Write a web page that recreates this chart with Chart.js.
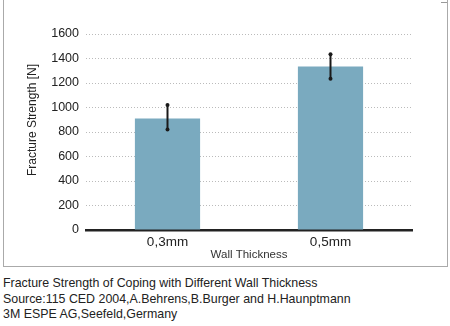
<!DOCTYPE html>
<html>
<head>
<meta charset="utf-8">
<script src="https://cdn.jsdelivr.net/npm/chart.js@4"></script>
<style>
  body { margin: 0; background: #fff; width: 450px; height: 326px; overflow: hidden; position: relative; font-family: "Liberation Sans", Arial, sans-serif; }
  #frame { position: absolute; left: 3px; top: 0; width: 443px; height: 266px; border-left: 1px solid #aaa; border-right: 1px solid #aaa; border-bottom: 1px solid #aaa; }
  #corner { position: absolute; left: 441px; top: 2px; width: 6px; height: 1px; background: #999; }
  #wrap { position: absolute; left: 0; top: 0; width: 450px; height: 270px; }
  #caption { position: absolute; left: 3px; top: 276px; font-size: 12.4px; line-height: 15.5px; color: #222; }
</style>
</head>
<body>
<div id="frame"></div>
<div id="corner"></div>
<div id="wrap"><canvas id="chart"></canvas></div>
<div id="caption">
  Fracture Strength of Coping with Different Wall Thickness<br>
  Source:115 CED 2004,A.Behrens,B.Burger and H.Haunptmann<br>
  3M ESPE AG,Seefeld,Germany
</div>
<script>
// Data
const categories = ['0,3mm', '0,5mm'];
const strength = [910, 1335];
const errLow = [820, 1235];
const errHigh = [1020, 1435];

const yTitle = 'Fracture Strength [N]';
const xTitle = 'Wall Thickness';

// Error bars + rotated y title
const extras = {
    id: 'extras',
    afterDatasetsDraw(chart) {
        const ctx = chart.ctx;
        const y = chart.scales.y;
        const meta = chart.getDatasetMeta(0);
        ctx.save();
        ctx.strokeStyle = '#1a1a1a';
        ctx.fillStyle = '#1a1a1a';
        ctx.lineWidth = 2;
        meta.data.forEach((bar, i) => {
            const top = y.getPixelForValue(errHigh[i]);
            const bot = y.getPixelForValue(errLow[i]);
            ctx.beginPath();
            ctx.moveTo(bar.x, top);
            ctx.lineTo(bar.x, bot);
            ctx.stroke();
            [top, bot].forEach(p => {
                ctx.beginPath();
                ctx.arc(bar.x, p, 2, 0, Math.PI * 2);
                ctx.fill();
            });
        });
        ctx.restore();
    },
    afterDraw(chart) {
        const ctx = chart.ctx;
        ctx.save();
        ctx.translate(33, 120);
        ctx.rotate(-Math.PI / 2);
        ctx.font = '12px "Liberation Sans", Arial, sans-serif';
        ctx.fillStyle = '#222';
        ctx.textAlign = 'center';
        ctx.textBaseline = 'middle';
        ctx.fillText(yTitle, 0, 0);
        ctx.restore();
    }
};

new Chart(document.getElementById('chart'), {
    type: 'bar',
    data: {
        labels: categories,
        datasets: [{
            data: strength,
            backgroundColor: '#7aaabf',
            borderWidth: 0,
            categoryPercentage: 1,
            barPercentage: 0.4
        }]
    },
    options: {
        responsive: true,
        maintainAspectRatio: false,
        animation: false,
        layout: {
            padding: { top: 34, right: 38, bottom: 0, left: 0 }
        },
        plugins: {
            legend: { display: false },
            tooltip: { enabled: false }
        },
        scales: {
            x: {
                grid: { display: false, drawTicks: false },
                border: { display: true, color: '#222', width: 2.5 },
                ticks: {
                    color: '#222',
                    padding: 4,
                    font: { family: '"Liberation Sans", Arial, sans-serif', size: 13.5 }
                },
                title: {
                    display: true,
                    text: xTitle,
                    color: '#333',
                    padding: { top: 0, bottom: 8 },
                    font: { family: '"Liberation Sans", Arial, sans-serif', size: 11.5 }
                },
                afterFit: s => { s.height = 40; }
            },
            y: {
                min: 0,
                max: 1600,
                ticks: {
                    stepSize: 200,
                    color: '#222',
                    padding: 7,
                    font: { family: '"Liberation Sans", Arial, sans-serif', size: 12.5 },
                    callback: v => String(v)
                },
                grid: {
                    color: '#bbb',
                    lineWidth: 1,
                    drawTicks: false
                },
                border: { display: false, dash: [1, 2] },
                afterFit: s => { s.width = 86; }
            }
        }
    },
    plugins: [extras]
});
</script>
</body>
</html>
